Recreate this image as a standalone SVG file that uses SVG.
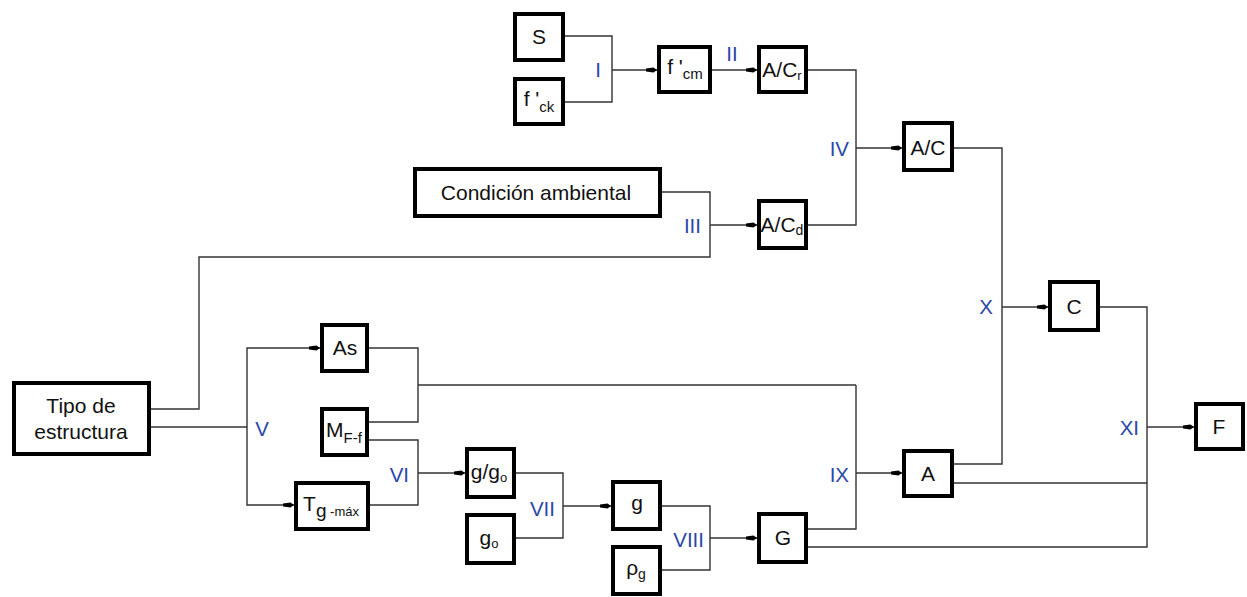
<svg xmlns="http://www.w3.org/2000/svg" width="1247" height="597" viewBox="0 0 1247 597">
<style>
.box{fill:#fff;stroke:#000;stroke-width:4}
.t{font-family:"Liberation Sans",Arial,sans-serif;font-size:21px;fill:#111;text-anchor:middle}
.s{font-size:15px}
.lb{font-family:"Liberation Sans",Arial,sans-serif;font-size:20.5px;fill:#2a48a8}
.c{fill:none;stroke:#333;stroke-width:1.4}
</style>
<defs>
<marker id="ar" markerUnits="userSpaceOnUse" markerWidth="14" markerHeight="8" viewBox="-12 -4 14 8" refX="0" refY="0" orient="auto">
<path d="M-11,-1.6 L-3.5,-2.6 L0,0 L-3.5,2.6 L-11,1.6 Z" fill="#000"/>
</marker>
</defs>
<rect width="1247" height="597" fill="#fff"/>
<g id="connectors">
<path class="c" d="M565 36 H612 V102 H565"/>
<path class="c" d="M612 70 H657" marker-end="url(#ar)"/>
<path class="c" d="M712 70 H757" marker-end="url(#ar)"/>
<path class="c" d="M808 70 H856 V225 H808"/>
<path class="c" d="M856 148 H902" marker-end="url(#ar)"/>
<path class="c" d="M662 192 H710 V257 H199 V409 H151"/>
<path class="c" d="M710 225 H757" marker-end="url(#ar)"/>
<path class="c" d="M151 427 H247"/>
<path class="c" d="M247 427 V348 H320" marker-end="url(#ar)"/>
<path class="c" d="M247 427 V505 H294" marker-end="url(#ar)"/>
<path class="c" d="M369 348 H418 V422 H369"/>
<path class="c" d="M418 385 H856"/>
<path class="c" d="M856 385 V529 H808"/>
<path class="c" d="M856 473 H902" marker-end="url(#ar)"/>
<path class="c" d="M369 440 H418 V505 H370"/>
<path class="c" d="M418 473 H465" marker-end="url(#ar)"/>
<path class="c" d="M516 473 H563 V538 H516"/>
<path class="c" d="M563 506 H611" marker-end="url(#ar)"/>
<path class="c" d="M662 506 H710 V570 H662"/>
<path class="c" d="M710 538 H757" marker-end="url(#ar)"/>
<path class="c" d="M954 148 H1002 V464 H954"/>
<path class="c" d="M1002 307 H1048" marker-end="url(#ar)"/>
<path class="c" d="M1100 307 H1147 V547 H808"/>
<path class="c" d="M954 483 H1147"/>
<path class="c" d="M1147 427 H1194" marker-end="url(#ar)"/>
</g>
<g id="labels">
<text class="lb" x="598" y="77" text-anchor="middle">I</text>
<text class="lb" x="732" y="61" text-anchor="middle">II</text>
<text class="lb" x="701" y="233" text-anchor="end">III</text>
<text class="lb" x="849" y="156" text-anchor="end">IV</text>
<text class="lb" x="262" y="436" text-anchor="middle">V</text>
<text class="lb" x="409" y="482" text-anchor="end">VI</text>
<text class="lb" x="555" y="516" text-anchor="end">VII</text>
<text class="lb" x="704" y="547" text-anchor="end">VIII</text>
<text class="lb" x="849" y="482" text-anchor="end">IX</text>
<text class="lb" x="993" y="314" text-anchor="end">X</text>
<text class="lb" x="1139" y="435" text-anchor="end">XI</text>
</g>
<g id="node-S"><rect class="box" x="515" y="14" width="48" height="46"/><text class="t" x="539" y="44">S</text></g>
<g id="node-fck"><rect class="box" x="515" y="79" width="48" height="45"/><text class="t" x="539" y="106">f '<tspan class="s" dy="6">ck</tspan></text></g>
<g id="node-fcm"><rect class="box" x="659" y="47" width="51" height="45"/><text class="t" x="685" y="74">f '<tspan class="s" dy="5">cm</tspan></text></g>
<g id="node-ACr"><rect class="box" x="759" y="47" width="47" height="45"/><text class="t" x="782" y="77">A/C<tspan style="font-size:13px" dy="3">r</tspan></text></g>
<g id="node-cond"><rect class="box" x="415" y="169" width="245" height="47"/><text class="t" x="536" y="200" style="font-size:21px">Condición ambiental</text></g>
<g id="node-ACd"><rect class="box" x="759" y="201" width="47" height="47"/><text class="t" x="782" y="232">A/C<tspan style="font-size:14px" dy="3">d</tspan></text></g>
<g id="node-AC"><rect class="box" x="904" y="123" width="48" height="47"/><text class="t" x="928" y="155">A/C</text></g>
<g id="node-C"><rect class="box" x="1050" y="282" width="48" height="48"/><text class="t" x="1074" y="314">C</text></g>
<g id="node-F"><rect class="box" x="1196" y="404" width="47" height="45"/><text class="t" x="1219" y="434">F</text></g>
<g id="node-A"><rect class="box" x="904" y="451" width="48" height="45"/><text class="t" x="928" y="481">A</text></g>
<g id="node-tipo"><rect class="box" x="14" y="383" width="135" height="71"/><text class="t" x="81" y="413">Tipo de</text><text class="t" x="81" y="439">estructura</text></g>
<g id="node-As"><rect class="box" x="322" y="325" width="45" height="46"/><text class="t" x="345" y="355">As</text></g>
<g id="node-MFf"><rect class="box" x="322" y="409" width="45" height="46"/><text class="t" x="344" y="437">M<tspan class="s" dy="6">F-f</tspan></text></g>
<g id="node-Tg"><rect class="box" x="296" y="483" width="72" height="46"/><text class="t" x="331" y="511">T<tspan style="font-size:19px" dy="6">g</tspan><tspan style="font-size:13px" dy="-1"> -máx</tspan></text></g>
<g id="node-ggo"><rect class="box" x="467" y="449" width="47" height="48"/><text class="t" x="489" y="479">g/g<tspan style="font-size:13px" dy="3">o</tspan></text></g>
<g id="node-go"><rect class="box" x="467" y="515" width="47" height="48"/><text class="t" x="489" y="545">g<tspan style="font-size:13px" dy="3">o</tspan></text></g>
<g id="node-g"><rect class="box" x="613" y="482" width="47" height="47"/><text class="t" x="637" y="510">g</text></g>
<g id="node-rhog"><rect class="box" x="613" y="547" width="47" height="47"/><text class="t" x="636" y="575">ρ<tspan style="font-size:14px" dy="4">g</tspan></text></g>
<g id="node-G"><rect class="box" x="759" y="514" width="47" height="48"/><text class="t" x="783" y="545">G</text></g>
</svg>
